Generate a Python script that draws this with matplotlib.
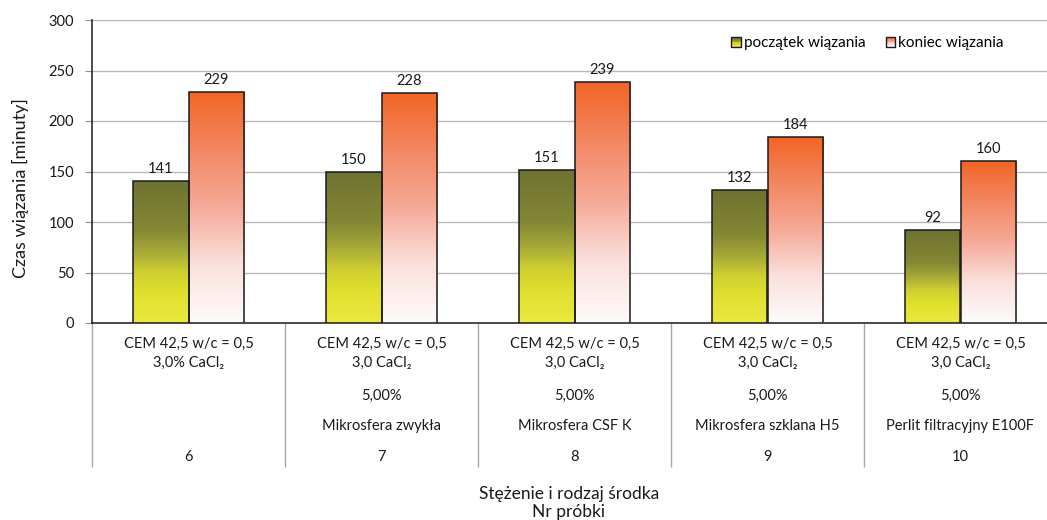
import numpy as np
import matplotlib
matplotlib.use("Agg")
import matplotlib.pyplot as plt
from matplotlib.colors import LinearSegmentedColormap
from matplotlib.patches import Rectangle
from matplotlib.legend_handler import HandlerBase
from matplotlib.transforms import blended_transform_factory

plt.rcParams['font.family'] = ['Lato', 'DejaVu Sans']

# --- data -------------------------------------------------------------
samples = ['6', '7', '8', '9', '10']
base_mix = ['CEM 42,5 w/c = 0,5'] * 5
cacl2 = ['3,0% CaCl₂', '3,0 CaCl₂', '3,0 CaCl₂', '3,0 CaCl₂', '3,0 CaCl₂']
concentration = ['', '5,00%', '5,00%', '5,00%', '5,00%']
additive = ['', 'Mikrosfera zwykła', 'Mikrosfera CSF K',
            'Mikrosfera szklana H5', 'Perlit filtracyjny E100F']
setting_start = [141, 150, 151, 132, 92]
setting_end = [229, 228, 239, 184, 160]
series_names = ['początek wiązania', 'koniec wiązania']
y_ticks = [0, 50, 100, 150, 200, 250, 300]

# --- gradient fills ---------------------------------------------------
cmap_start = LinearSegmentedColormap.from_list('start', [
    (0.0, '#ebe83f'), (0.2, '#e2e02e'), (0.35, '#d0d030'),
    (0.5, '#a6a938'), (0.66, '#848733'), (1.0, '#6f7231')])
cmap_end = LinearSegmentedColormap.from_list('end', [
    (0.0, '#fdfbfb'), (0.25, '#fbe1dd'), (0.5, '#f5aa98'),
    (0.75, '#f38762'), (1.0, '#f26525')])

fig = plt.figure(figsize=(10.47, 5.2), dpi=100)
W, H = 1047, 520
ax = fig.add_axes([92 / W, 1 - 323 / H, (1057 - 92) / W, 303 / H])

x = np.arange(len(samples))
bw = 0.288
grad = np.linspace(0, 1, 256).reshape(-1, 1)


def gradient_bars(xpos, values, cmap):
    bars = ax.bar(xpos, values, bw, facecolor='none', edgecolor='#1a1a1a',
                  linewidth=1.1, zorder=4)
    for b in bars:
        x0, y0 = b.get_x(), b.get_y()
        w, h = b.get_width(), b.get_height()
        im = ax.imshow(grad, cmap=cmap, origin='lower', aspect='auto',
                       extent=(x0, x0 + w, y0, y0 + h), zorder=3,
                       interpolation='bilinear')
        im.set_clip_path(b)
    for b, v in zip(bars, values):
        ax.annotate(f'{v}', (b.get_x() + b.get_width() / 2, v),
                    xytext=(0, 5), textcoords='offset pixels',
                    ha='center', va='bottom', fontsize=10.5, color='#1a1a1a')
    return bars


gradient_bars(x - bw / 2, setting_start, cmap_start)
gradient_bars(x + bw / 2, setting_end, cmap_end)

ax.set_xlim(-0.5, len(samples) - 0.5)
ax.set_ylim(0, 300)
ax.set_yticks(y_ticks)
ax.tick_params(axis='y', direction='out', length=5, color='#909090',
               labelsize=10.5, pad=8, labelcolor='#1a1a1a')
ax.yaxis.grid(True, color='#b8b8b8', linewidth=1)
ax.set_axisbelow(True)

# category separators drawn as long minor ticks
ax.set_xticks([])
ax.set_xticks(np.arange(-0.5, len(samples) + 0.5, 1), minor=True)
ax.tick_params(axis='x', which='minor', direction='out',
               length=144 * 0.72, width=1, color='#a8a8a8')

for s in ['top', 'right']:
    ax.spines[s].set_visible(False)
ax.spines['left'].set_color('#1a1a1a')
ax.spines['bottom'].set_color('#1a1a1a')
ax.spines['left'].set_linewidth(1.1)
ax.spines['bottom'].set_linewidth(1.1)

# category table below the axis
trans = blended_transform_factory(ax.transData, ax.transAxes)
rows = [(base_mix, 21), (cacl2, 40), (concentration, 73),
        (additive, 103), (samples, 134)]
for labels, off in rows:
    for xi, lab in zip(x, labels):
        if lab:
            ax.annotate(lab, (xi, 0), xycoords=trans, xytext=(0, -off),
                        textcoords='offset pixels', ha='center',
                        va='center', fontsize=10.5, color='#1a1a1a',
                        annotation_clip=False)

fig.text(569 / W, 1 - 494 / H, 'Stężenie i rodzaj środka', ha='center',
         va='center', fontsize=12.5, color='#1a1a1a')
fig.text(569 / W, 1 - 512 / H, 'Nr próbki', ha='center', va='center',
         fontsize=12.5, color='#1a1a1a')
fig.text(20 / W, 1 - 188 / H, 'Czas wiązania [minuty]', rotation=90,
         ha='center', va='center', fontsize=13, color='#1a1a1a')


# legend keys with a vertical gradient
class GradientHandler(HandlerBase):
    def __init__(self, cmap):
        super().__init__()
        self.cmap = cmap

    def create_artists(self, legend, orig_handle, xdescent, ydescent,
                       width, height, fontsize, trans):
        side = min(width, height)
        x0 = -xdescent + (width - side) / 2
        y0 = -ydescent + (height - side) / 2
        n = 12
        arts = []
        for i in range(n):
            arts.append(Rectangle((x0, y0 + side * i / n), side, side / n,
                                  facecolor=self.cmap((i + 0.5) / n),
                                  edgecolor='none', transform=trans))
        arts.append(Rectangle((x0, y0), side, side, facecolor='none',
                              edgecolor='#1a1a1a', linewidth=1,
                              transform=trans))
        return arts


h1 = Rectangle((0, 0), 1, 1)
h2 = Rectangle((0, 0), 1, 1)
ax.legend([h1, h2], series_names, ncol=2, frameon=False, fontsize=11,
          handlelength=0.65, handleheight=0.65, handletextpad=0.2,
          columnspacing=1.3,
          handler_map={h1: GradientHandler(cmap_start),
                       h2: GradientHandler(cmap_end)},
          loc='center right',
          bbox_to_anchor=(1004 / W, 1 - 43 / H),
          bbox_transform=fig.transFigure, borderaxespad=0, borderpad=0)

fig.savefig('out.png', dpi=100)
